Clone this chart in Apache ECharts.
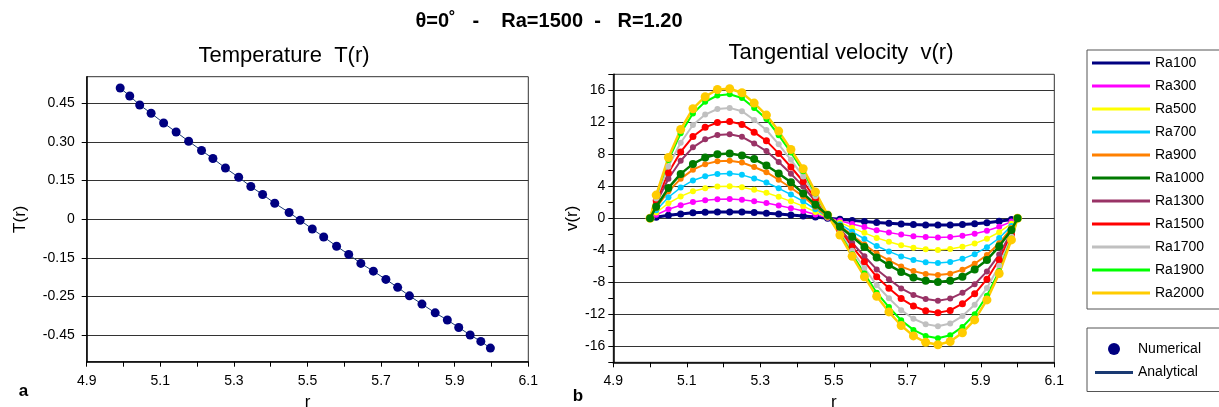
<!DOCTYPE html>
<html>
<head>
<meta charset="utf-8">
<script src="https://cdn.jsdelivr.net/npm/echarts@6/dist/echarts.min.js"></script>
<style>
  html, body { margin: 0; padding: 0; background: #fff; }
  #chart { width: 1219px; height: 407px; }
</style>
</head>
<body>
<div id="chart"></div>
<script>
// ---------- DATA ----------
// Panel a: temperature T(r)
const rT = [4.991, 5.017, 5.044, 5.075, 5.109, 5.143, 5.177, 5.212, 5.243, 5.277, 5.313, 5.346, 5.378, 5.411, 5.450, 5.480,
            5.513, 5.544, 5.579, 5.612, 5.645, 5.679, 5.713, 5.745, 5.777, 5.811, 5.847, 5.880, 5.911, 5.942, 5.971, 5.997];
const tNumerical = [0.510, 0.479, 0.444, 0.412, 0.374, 0.339, 0.303, 0.267, 0.236, 0.199, 0.163, 0.127, 0.096, 0.062, 0.026, -0.004,
                    -0.038, -0.069, -0.105, -0.137, -0.172, -0.202, -0.234, -0.265, -0.298, -0.330, -0.364, -0.392, -0.421, -0.450, -0.475, -0.501];
const tAnalytical = [0.510, 0.479, 0.444, 0.412, 0.374, 0.339, 0.303, 0.267, 0.236, 0.199, 0.163, 0.127, 0.096, 0.062, 0.026, -0.004,
                    -0.038, -0.069, -0.105, -0.137, -0.172, -0.202, -0.234, -0.265, -0.298, -0.330, -0.364, -0.392, -0.421, -0.450, -0.475, -0.501];
const tTickValues = [-0.45, -0.30, -0.15, 0, 0.15, 0.30, 0.45];
const tTickLabels = ['-0.45', '-0.25', '-0.15', '0', '0.15', '0.30', '0.45'];

// Panel b: tangential velocity v(r)
const rV = [5.0, 5.0167, 5.05, 5.0833, 5.1167, 5.15, 5.1833, 5.2167, 5.25, 5.2833, 5.3167, 5.35, 5.3833, 5.4167, 5.45, 5.4833,
            5.5167, 5.55, 5.5833, 5.6167, 5.65, 5.6833, 5.7167, 5.75, 5.7833, 5.8167, 5.85, 5.8833, 5.9167, 5.95, 5.9833, 6.0];
const seriesNames = ['Ra100', 'Ra300', 'Ra500', 'Ra700', 'Ra900', 'Ra1000', 'Ra1300', 'Ra1500', 'Ra1700', 'Ra1900', 'Ra2000'];
const ra100 = [0, 0.14, 0.38, 0.55, 0.68, 0.75, 0.79, 0.80, 0.78, 0.71, 0.64, 0.54, 0.42, 0.30, 0.16, 0.02,
               -0.11, -0.26, -0.39, -0.53, -0.63, -0.72, -0.79, -0.83, -0.85, -0.83, -0.77, -0.68, -0.55, -0.37, -0.14, 0];
const ra300 = [0, 0.43, 1.13, 1.64, 2.03, 2.26, 2.38, 2.40, 2.33, 2.14, 1.92, 1.61, 1.27, 0.91, 0.48, 0.06,
               -0.31, -0.72, -1.10, -1.49, -1.78, -2.04, -2.23, -2.35, -2.40, -2.34, -2.17, -1.92, -1.55, -1.06, -0.41, 0];
const ra500 = [0, 0.72, 1.88, 2.74, 3.38, 3.76, 3.96, 4.00, 3.88, 3.56, 3.20, 2.68, 2.12, 1.52, 0.80, 0.10,
               -0.51, -1.19, -1.82, -2.45, -2.92, -3.36, -3.67, -3.87, -3.95, -3.85, -3.57, -3.16, -2.55, -1.74, -0.67, 0];
const ra700 = [0, 1.01, 2.63, 3.84, 4.73, 5.26, 5.54, 5.60, 5.43, 4.98, 4.48, 3.75, 2.97, 2.13, 1.12, 0.14,
               -0.73, -1.68, -2.58, -3.47, -4.14, -4.76, -5.21, -5.49, -5.60, -5.46, -5.07, -4.48, -3.61, -2.46, -0.95, 0];
const ra900 = [0, 1.30, 3.38, 4.93, 6.08, 6.77, 7.13, 7.20, 6.98, 6.41, 5.76, 4.82, 3.82, 2.74, 1.44, 0.18,
               -0.92, -2.13, -3.27, -4.40, -5.25, -6.04, -6.60, -6.96, -7.10, -6.92, -6.43, -5.68, -4.58, -3.12, -1.21, 0];
const ra1000 = [0, 1.45, 3.8, 5.55, 6.8, 7.6, 8.0, 8.1, 7.85, 7.4, 6.6, 5.6, 4.5, 3.1, 1.7, 0.4,
                -1.05, -2.3, -3.6, -4.9, -5.85, -6.7, -7.4, -7.8, -7.95, -7.8, -7.3, -6.4, -5.2, -3.5, -1.45, 0];
const ra1300 = [0, 1.89, 4.94, 7.19, 8.87, 9.87, 10.40, 10.50, 10.19, 9.35, 8.40, 7.04, 5.57, 3.99, 2.10, 0.26,
                -1.34, -3.09, -4.74, -6.39, -7.62, -8.76, -9.58, -10.09, -10.30, -10.04, -9.32, -8.24, -6.64, -4.53, -1.75, 0];
const ra1500 = [0, 2.18, 5.69, 8.29, 10.22, 11.37, 11.98, 12.10, 11.74, 10.77, 9.68, 8.11, 6.41, 4.60, 2.42, 0.30,
                -1.53, -3.54, -5.43, -7.32, -8.73, -10.03, -10.97, -11.56, -11.80, -11.51, -10.68, -9.44, -7.61, -5.19, -2.01, 0];
const ra1700 = [0, 2.48, 6.49, 9.45, 11.66, 12.97, 13.66, 13.80, 13.39, 12.28, 11.04, 9.25, 7.31, 5.24, 2.76, 0.35,
                -1.76, -4.05, -6.21, -8.37, -9.99, -11.48, -12.56, -13.23, -13.50, -13.16, -12.22, -10.80, -8.71, -5.94, -2.30, 0];
const ra1900 = [0, 2.79, 7.29, 10.62, 13.10, 14.57, 15.35, 15.50, 15.04, 13.80, 12.40, 10.39, 8.22, 5.89, 3.10, 0.39,
                -1.95, -4.50, -6.90, -9.30, -11.10, -12.75, -13.95, -14.70, -15.00, -14.63, -13.58, -12.00, -9.68, -6.60, -2.55, 0];
const ra2000 = [0, 2.9, 7.6, 11.1, 13.7, 15.2, 16.1, 16.2, 15.7, 14.4, 12.9, 10.9, 8.6, 6.2, 3.3, 0.4,
                -2.1, -4.75, -7.3, -9.75, -11.7, -13.4, -14.7, -15.5, -15.8, -15.4, -14.3, -12.7, -10.2, -6.9, -2.7, 0];
const vValues = [ra100, ra300, ra500, ra700, ra900, ra1000, ra1300, ra1500, ra1700, ra1900, ra2000];

// ---------- STYLE ----------
const FONT = '"Liberation Sans", Arial, Helvetica, sans-serif';
const seriesColors = ['#000080', '#ff00ff', '#ffff00', '#00ccff', '#ff8000', '#007a00', '#993366', '#ff0000', '#c0c0c0', '#00ff00', '#ffcc00'];
const symbolSizes = [7, 6, 6, 6, 6, 8, 6, 7, 6, 6, 9];
const lineWidths = [3, 1.5, 1.5, 1.5, 2, 2.5, 2, 2, 2, 2, 2.5];

const xFormatter = v => { const k = Math.round(v * 10); return (k % 2 === 1) ? (k / 10).toFixed(1) : ''; };
const tFormatter = v => { const i = tTickValues.findIndex(t => Math.abs(t - v) < 1e-6); return i >= 0 ? tTickLabels[i] : ''; };
const vFormatter = v => { const k = Math.round(v); return (k % 4 === 0) ? String(k) : ''; };

const axisCommon = {
  axisLine: { show: true, onZero: false, lineStyle: { color: '#000', width: 1.5 } },
  axisTick: { show: true, inside: false, length: 5, lineStyle: { color: '#000', width: 1 } },
  nameTextStyle: { fontSize: 17, color: '#000', fontFamily: FONT }
};
const labelCommon = { fontSize: 14, color: '#000', fontFamily: FONT };

const chart = echarts.init(document.getElementById('chart'), null, { renderer: 'canvas' });

const vSeries = seriesNames.map((name, i) => ({
  name: name,
  type: 'line',
  xAxisIndex: 1,
  yAxisIndex: 1,
  data: rV.map((r, j) => [r, vValues[i][j]]),
  symbol: 'circle',
  symbolSize: symbolSizes[i],
  showAllSymbol: true,
  lineStyle: { color: seriesColors[i], width: lineWidths[i] },
  itemStyle: { color: seriesColors[i] },
  z: name === 'Ra1000' ? 4 : 3,
  animation: false
}));

const option = {
  backgroundColor: '#fff',
  animation: false,
  textStyle: { fontFamily: FONT },
  grid: [
    { left: 86.7, top: 76.7, width: 441.6, height: 285, outerBoundsMode: 'none', containLabel: false,
      show: true, borderColor: '#333', borderWidth: 1, backgroundColor: 'transparent' },
    { left: 613.3, top: 74.3, width: 441, height: 288, outerBoundsMode: 'none', containLabel: false,
      show: true, borderColor: '#333', borderWidth: 1, backgroundColor: 'transparent' }
  ],
  xAxis: [
    Object.assign({}, axisCommon, {
      gridIndex: 0, type: 'value', min: 4.9, max: 6.1, interval: 0.1,
      axisLabel: Object.assign({ formatter: xFormatter, margin: 12 }, labelCommon),
      splitLine: { show: false },
      name: 'r', nameLocation: 'middle', nameGap: 32
    }),
    Object.assign({}, axisCommon, {
      gridIndex: 1, type: 'value', min: 4.9, max: 6.1, interval: 0.1,
      axisLabel: Object.assign({ formatter: xFormatter, margin: 12 }, labelCommon),
      splitLine: { show: false },
      name: 'r', nameLocation: 'middle', nameGap: 32
    })
  ],
  yAxis: [
    Object.assign({}, axisCommon, {
      gridIndex: 0, type: 'value', min: -0.554, max: 0.554,
      axisTick: { show: true, inside: false, length: 5, customValues: tTickValues, lineStyle: { color: '#000', width: 1 } },
      axisLabel: Object.assign({ formatter: tFormatter, margin: 12, customValues: tTickValues }, labelCommon),
      splitLine: { show: true, lineStyle: { color: '#333', width: 1 } },
      name: 'T(r)', nameLocation: 'middle', nameGap: 58
    }),
    Object.assign({}, axisCommon, {
      gridIndex: 1, type: 'value', min: -18, max: 18, interval: 2,
      axisLabel: Object.assign({ formatter: vFormatter, margin: 8 }, labelCommon),
      splitLine: { show: true, lineStyle: { color: ['rgba(0,0,0,0)', '#333'], width: 1 } },
      name: 'v(r)', nameLocation: 'middle', nameGap: 25
    })
  ],
  legend: [
    {
      data: seriesNames,
      orient: 'vertical',
      left: 1087, top: 50,
      padding: [6, 30, 9, 5],
      itemWidth: 58, itemHeight: 3, itemGap: 9,
      icon: 'rect',
      borderColor: '#555', borderWidth: 1,
      textStyle: { fontSize: 14, color: '#000', fontFamily: FONT },
      selectedMode: false
    },
    {
      data: [
        { name: 'Numerical', icon: 'circle' },
        { name: 'Analytical', icon: 'path://M0,0L0.01,0L0.01,0.01ZM0,4.5L40,4.5L40,7.5L0,7.5ZM0,12L0.01,12L0.01,11.99Z' }
      ],
      orient: 'vertical',
      left: 1087, top: 328,
      padding: [14, 30, 12, 8],
      itemWidth: 38, itemHeight: 12, itemGap: 9.5,
      borderColor: '#555', borderWidth: 1,
      textStyle: { fontSize: 14, color: '#000', fontFamily: FONT },
      selectedMode: false
    }
  ],
  graphic: [
    { type: 'text', x: 549, y: 21, style: { text: 'θ=0˚   -    Ra=1500  -   R=1.20', font: 'bold 20px ' + FONT, fill: '#000', align: 'center', verticalAlign: 'middle' } },
    { type: 'text', x: 284, y: 55.5, style: { text: 'Temperature  T(r)', font: '22px ' + FONT, fill: '#000', align: 'center', verticalAlign: 'middle' } },
    { type: 'text', x: 841, y: 52.5, style: { text: 'Tangential velocity  v(r)', font: '22px ' + FONT, fill: '#000', align: 'center', verticalAlign: 'middle' } },
    { type: 'text', x: 23.5, y: 391, style: { text: 'a', font: 'bold 17px ' + FONT, fill: '#000', align: 'center', verticalAlign: 'middle' } },
    { type: 'text', x: 578, y: 396, style: { text: 'b', font: 'bold 17px ' + FONT, fill: '#000', align: 'center', verticalAlign: 'middle' } }
  ],
  series: [
    {
      name: 'Analytical', type: 'line', xAxisIndex: 0, yAxisIndex: 0,
      data: rT.map((r, j) => [r, tAnalytical[j]]),
      symbol: 'none', lineStyle: { color: '#1a3a73', width: 1 }, itemStyle: { color: '#1a3a73' }, z: 2
    },
    {
      name: 'Numerical', type: 'scatter', xAxisIndex: 0, yAxisIndex: 0,
      data: rT.map((r, j) => [r, tNumerical[j]]),
      symbol: 'circle', symbolSize: 9, itemStyle: { color: '#000080', opacity: 1 }, z: 3
    }
  ].concat(vSeries)
};
chart.setOption(option);
</script>
</body>
</html>
